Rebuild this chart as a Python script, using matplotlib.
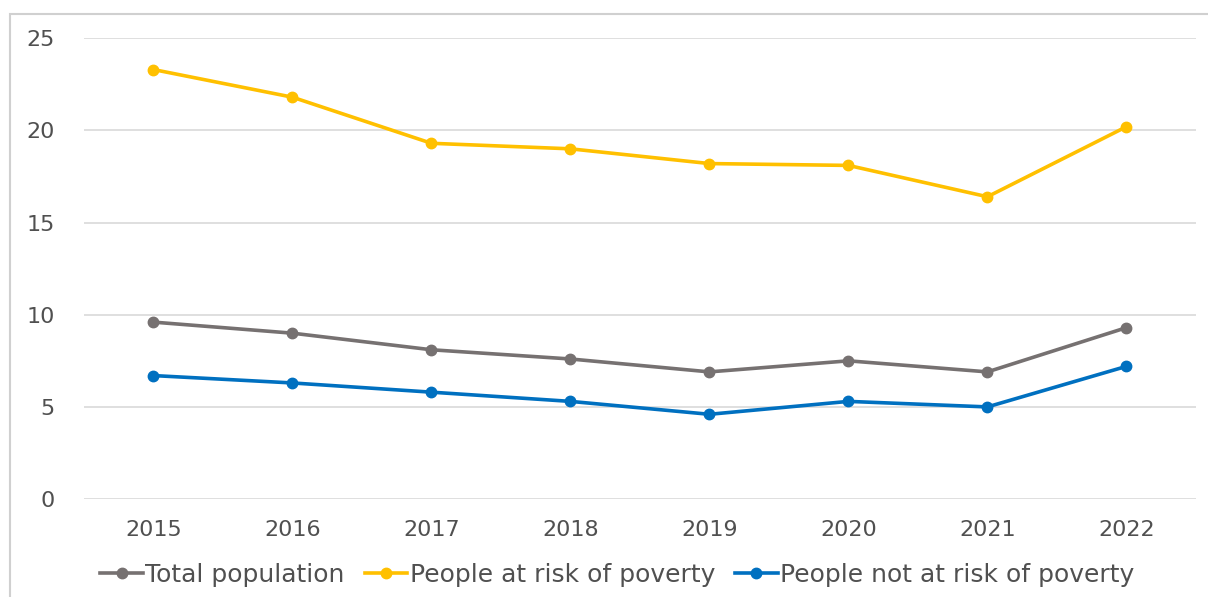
import numpy as np
import matplotlib.pyplot as plt
from matplotlib.patches import Rectangle

years = ["2015", "2016", "2017", "2018", "2019", "2020", "2021", "2022"]
total_pop = [9.6, 9.0, 8.1, 7.6, 6.9, 7.5, 6.9, 9.3]
at_risk = [23.3, 21.8, 19.3, 19.0, 18.2, 18.1, 16.4, 20.2]
not_at_risk = [6.7, 6.3, 5.8, 5.3, 4.6, 5.3, 5.0, 7.2]

plt.rcParams['font.family'] = ['DejaVu Sans']

fig = plt.figure(figsize=(12.08, 5.97), dpi=100)
ax = fig.add_axes([0.0695, 0.164, 0.9205, 0.772])

# chart border (cropped at right / bottom)
fig.patches.append(Rectangle((10 / 1208, -0.1), 1.2, 1 - 14 / 597 + 0.1,
                             transform=fig.transFigure, fill=False,
                             edgecolor='#d0d0d0', linewidth=1.5))

x = np.arange(len(years))
ax.plot(x, total_pop, color='#767171', lw=2.6, marker='o', ms=7.5,
        label='Total population')
ax.plot(x, at_risk, color='#FFC000', lw=2.6, marker='o', ms=7.5,
        label='People at risk of poverty')
ax.plot(x, not_at_risk, color='#0070C0', lw=2.6, marker='o', ms=7.5,
        label='People not at risk of poverty')

ax.set_xlim(-0.5, 7.5)
ax.set_ylim(0, 25)
ax.set_yticks([0, 5, 10, 15, 20, 25])
ax.set_xticks(x)
ax.set_xticklabels(years)
ax.grid(axis='y', color='#d9d9d9', lw=1.2)
ax.set_axisbelow(True)
for s in ax.spines.values():
    s.set_visible(False)
ax.tick_params(length=0, labelsize=16, colors='#505050')
ax.tick_params(axis='x', pad=15)
ax.tick_params(axis='y', pad=21)

fig.legend(loc='center', bbox_to_anchor=(0.511, 0.037), ncol=3, frameon=False,
           fontsize=18, labelcolor='#505050', handlelength=1.7,
           handletextpad=0.1, columnspacing=0.8)

fig.savefig('out.png', dpi=100)
